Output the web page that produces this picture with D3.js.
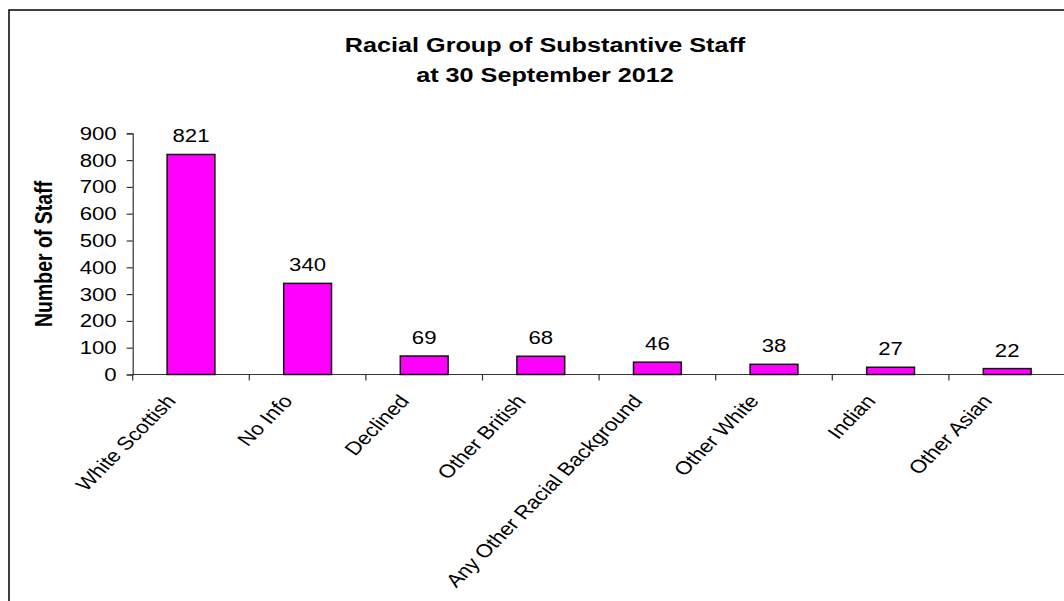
<!DOCTYPE html>
<html>
<head>
<meta charset="utf-8">
<script src="https://cdn.jsdelivr.net/npm/d3@7"></script>
<style>
  body { margin: 0; background: #fff; }
  svg { display: block; font-family: "Liberation Sans", Arial, sans-serif; }
</style>
</head>
<body>
<div id="chart"></div>
<script>
var titleLines = ["Racial Group of Substantive Staff", "at 30 September 2012"];
var yLabel = "Number of Staff";
var categories = ["White Scottish", "No Info", "Declined", "Other British",
                  "Any Other Racial Background", "Other White", "Indian", "Other Asian"];
var staffCounts = [821, 340, 69, 68, 46, 38, 27, 22];
var yTicks = [0, 100, 200, 300, 400, 500, 600, 700, 800, 900];

function init(){
  var w = 1064;
  var h = 601;
  var sx = 1.2;   // text in the picture is a bit wide

  var left = 132.7, right = 1065.5;
  var top = 133.3, bottom = 374.5;

  var svg = d3.select("#chart")
              .append("svg")
              .attr("width", w)
              .attr("height", h);

  // frame
  svg.append("rect")
     .attr("x", 9)
     .attr("y", 10)
     .attr("width", w)
     .attr("height", h)
     .attr("fill", "none")
     .attr("stroke", "#000")
     .attr("stroke-width", 1.5);

  var xScale = d3.scaleBand()
                 .domain(categories)
                 .range([left, right])
                 .paddingInner(0.59)
                 .paddingOuter(0.295);

  var yScale = d3.scaleLinear()
                 .domain([0, 900])
                 .range([bottom, top]);

  // title
  svg.selectAll("text.title")
     .data(titleLines)
     .enter()
     .append("text")
     .attr("class", "title")
     .attr("transform", function(d, i){
       return "translate(545," + (51.5 + i * 30.5) + ") scale(" + sx + ",1)";
     })
     .attr("text-anchor", "middle")
     .attr("font-size", 21)
     .attr("font-weight", "bold")
     .attr("fill", "#000")
     .text(function(d){ return d; });

  // y axis
  var yAxis = d3.axisLeft(yScale)
                .tickValues(yTicks)
                .tickSize(6)
                .tickPadding(10);

  var gy = svg.append("g")
              .attr("transform", "translate(" + left + ",0)")
              .call(yAxis);
  gy.select(".domain").attr("stroke", "#333").attr("stroke-width", 1.2);
  gy.selectAll(".tick line").attr("stroke", "#333").attr("stroke-width", 1.2);
  gy.selectAll(".tick text")
    .attr("x", -16 / sx)
    .attr("transform", "scale(" + sx + ",1)")
    .attr("font-size", 18.5)
    .attr("font-family", "Liberation Sans, Arial, sans-serif")
    .attr("fill", "#000");

  svg.append("text")
     .attr("transform", "translate(52," + ((top + bottom) / 2 + 0) + ") scale(" + sx + ",1) rotate(-90)")
     .attr("text-anchor", "middle")
     .attr("font-size", 19.5)
     .attr("font-weight", "bold")
     .attr("fill", "#000")
     .text(yLabel);

  // x axis: line and ticks on category boundaries
  var step = xScale.step();
  var bounds = d3.range(categories.length + 1).map(function(i){ return left + i * step; });

  svg.append("line")
     .attr("x1", left)
     .attr("x2", right)
     .attr("y1", bottom)
     .attr("y2", bottom)
     .attr("stroke", "#333")
     .attr("stroke-width", 1.2);

  svg.selectAll("line.xtick")
     .data(bounds)
     .enter()
     .append("line")
     .attr("class", "xtick")
     .attr("x1", function(d){ return d; })
     .attr("x2", function(d){ return d; })
     .attr("y1", bottom)
     .attr("y2", bottom + 6)
     .attr("stroke", "#333")
     .attr("stroke-width", 1.2);

  var ang = Math.atan(sx) * 180 / Math.PI;

  svg.selectAll("text.xlab")
     .data(categories)
     .enter()
     .append("text")
     .attr("class", "xlab")
     .attr("transform", function(d){
       var cx = xScale(d) + xScale.bandwidth() / 2 - 14;
       return "translate(" + cx + "," + (bottom + 27) + ") scale(" + sx + ",1) rotate(" + (-ang) + ")";
     })
     .attr("text-anchor", "end")
     .attr("font-size", 18.5)
     .attr("fill", "#000")
     .text(function(d){ return d; });

  // bars
  svg.selectAll("rect.bar")
     .data(staffCounts)
     .enter()
     .append("rect")
     .attr("class", "bar")
     .attr("x", function(d, i){ return xScale(categories[i]); })
     .attr("y", function(d){ return yScale(d); })
     .attr("width", xScale.bandwidth())
     .attr("height", function(d){ return yScale(0) - yScale(d); })
     .attr("fill", "#ff00ff")
     .attr("stroke", "#111")
     .attr("stroke-width", 1.5);

  // value labels
  svg.selectAll("text.val")
     .data(staffCounts)
     .enter()
     .append("text")
     .attr("class", "val")
     .attr("transform", function(d, i){
       var cx = xScale(categories[i]) + xScale.bandwidth() / 2;
       return "translate(" + cx + "," + (yScale(d) - 12) + ") scale(" + sx + ",1)";
     })
     .attr("text-anchor", "middle")
     .attr("font-size", 18.5)
     .attr("fill", "#000")
     .text(function(d){ return d; });
}

window.onload = init;
</script>
</body>
</html>
